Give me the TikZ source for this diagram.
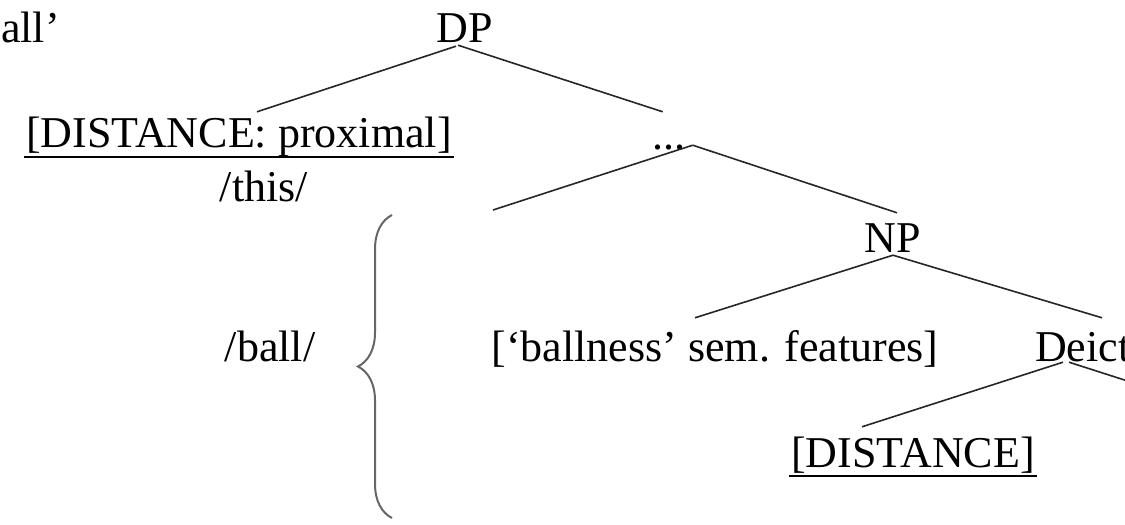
\documentclass[tikz,border=0pt]{standalone}
\usepackage{fontspec}
\setmainfont{Liberation Serif}
\usepackage{tikz}
\usetikzlibrary{calc,positioning,decorations.pathreplacing}
\tikzstyle{lbl}=[inner sep=0pt,text height=30pt,text depth=0pt,font=\fontsize{44}{52}\selectfont]
\tikzstyle{branch}=[line width=1.6pt,black!85]
\tikzstyle{underscore}=[line width=1.6pt,black]
\tikzstyle{bracket}=[line width=2pt,black!60,decorate,decoration={brace,amplitude=34pt}]

\begin{document}
\begin{tikzpicture}[x=1pt,y=1pt]
\clip (0,0) rectangle (1125,525);
\draw (1,482) node [lbl,anchor=base west] (gloss) {all’};
\draw (465,482) node [lbl,anchor=base] (dp) {DP};
\draw (239,377) node [lbl,anchor=base] (prox) {[DISTANCE: proximal]};
\draw (264,323) node [lbl,anchor=base] (this) {/this/};
\draw (652,375) node [lbl,anchor=base west] (dots) {...};
\draw (270,163) node [lbl,anchor=base] (ball) {/ball/};
\draw (893,272) node [lbl,anchor=base] (np) {NP};
\draw (715,163) node [lbl,anchor=base] (feat) {[‘ballness’ sem. features]};
\draw (1035,163) node [lbl,anchor=base west] (deic) {Deictic};
\draw (913,57) node [lbl,anchor=base] (dist) {[DISTANCE]};
\coordinate (cut1) at (493,315);
\coordinate (cut2) at (1140,140);
\coordinate (bracebot) at (392,7);
\coordinate (bracetop) at (392,310);
% underlines
\draw[underscore] ([shift={(-2,-9)}]prox.base west) -- ([shift={(2,-9)}]prox.base east);
\draw[underscore] ([shift={(-2,-8)}]dist.base west) -- ([shift={(2,-8)}]dist.base east);
% tree branches
\draw[branch] ([shift={(-9,-3)}]dp.south) -- ([shift={(18,6)}]prox.north);
\draw[branch] ([shift={(-7,-2)}]dp.south) -- ([shift={(-6,8)}]dots.north);
\draw[branch] ([shift={(24,5)}]dots.south) -- (cut1);
\draw[branch] ([shift={(24,5)}]dots.south) -- ([shift={(4,10)}]np.north);
\draw[branch] ([shift={(0,-2)}]np.south) -- ([shift={(-20,14)}]feat.north);
\draw[branch] ([shift={(0,-2)}]np.south) -- ([shift={(67,14)}]deic.north west);
\draw[branch] ([shift={(28,0)}]deic.south west) -- ([shift={(-51,11)}]dist.north);
\draw[branch] ([shift={(34,0)}]deic.south west) -- (cut2);
% brace
\draw[bracket] (bracebot) -- (bracetop);
\end{tikzpicture}
\end{document}
